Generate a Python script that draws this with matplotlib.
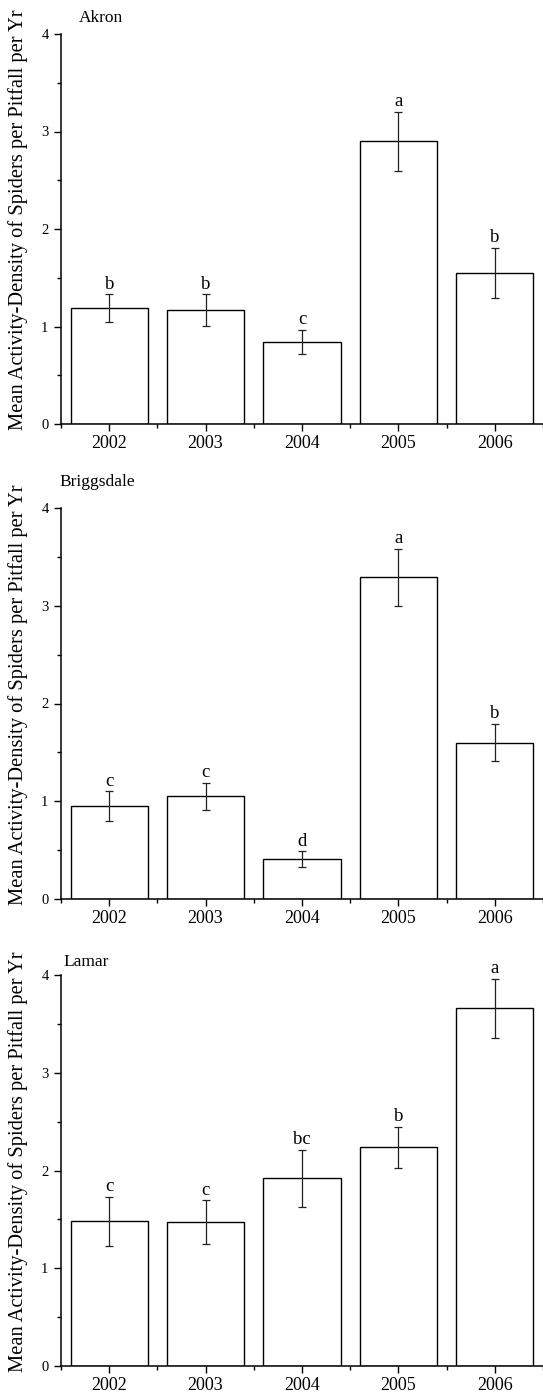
import matplotlib
matplotlib.use('Agg')
from matplotlib import pyplot as plt
from matplotlib.ticker import MultipleLocator
import numpy as np

plt.rcParams['font.family'] = ['Liberation Serif', 'DejaVu Serif']

years = ['2002', '2003', '2004', '2005', '2006']

sites = ['Akron', 'Briggsdale', 'Lamar']

akron_mean = [1.19, 1.17, 0.84, 2.90, 1.55]
akron_se = [0.14, 0.16, 0.125, 0.30, 0.26]
akron_letters = ['b', 'b', 'c', 'a', 'b']

brig_mean = [0.95, 1.05, 0.41, 3.29, 1.60]
brig_se = [0.15, 0.14, 0.08, 0.29, 0.19]
brig_letters = ['c', 'c', 'd', 'a', 'b']

lamar_mean = [1.48, 1.47, 1.92, 2.24, 3.66]
lamar_se = [0.25, 0.225, 0.29, 0.21, 0.30]
lamar_letters = ['c', 'c', 'bc', 'b', 'a']

means = [akron_mean, brig_mean, lamar_mean]
errs = [akron_se, brig_se, lamar_se]
letters = [akron_letters, brig_letters, lamar_letters]

W, H = 543, 1394
fig = plt.figure(figsize=(W / 100, H / 100), dpi=100)

# axes boxes in pixels: (top of y=4, bottom at y=0)
boxes = [(34, 424), (508, 899), (975, 1366)]
title_pos = [(79, 22), (59, 486), (63, 966)]
left_px = 61

x = np.arange(1, 6)

for k in range(3):
    top, bot = boxes[k]
    ax = fig.add_axes([left_px / W, 1 - bot / H, (W - left_px) / W, (bot - top) / H])
    ax.bar(x, means[k], width=0.8, color='white', edgecolor='black', lw=1.0, zorder=2)
    ax.errorbar(x, means[k], yerr=errs[k], fmt='none', ecolor='#222222', elinewidth=0.9,
                capsize=3.2, capthick=0.9, zorder=3)
    for i in range(5):
        ax.annotate(letters[k][i], xy=(x[i], means[k][i] + errs[k][i]), xytext=(0, 4),
                    textcoords='offset points', ha='center', va='baseline', fontsize=13.5)

    ax.set_xlim(0.5, 5.5)
    ax.set_ylim(0, 4)
    ax.set_xticks(x)
    ax.set_xticklabels(years, fontsize=13)
    ax.xaxis.set_minor_locator(MultipleLocator(1, offset=0.5))
    ax.yaxis.set_major_locator(MultipleLocator(1))
    ax.yaxis.set_minor_locator(MultipleLocator(0.5))
    ax.tick_params(axis='y', which='major', direction='out', length=5, width=1, labelsize=10.5, pad=4)
    ax.tick_params(axis='y', which='minor', direction='out', length=3, width=1)
    ax.tick_params(axis='x', which='major', direction='out', length=5, width=1, pad=3)
    ax.tick_params(axis='x', which='minor', direction='out', length=3, width=1)
    ax.spines['top'].set_visible(False)
    ax.spines['right'].set_visible(False)
    ax.spines['left'].set_linewidth(1.1)
    ax.spines['bottom'].set_linewidth(1.1)

    tx, ty = title_pos[k]
    fig.text(tx / W, 1 - ty / H, sites[k], fontsize=12.5, ha='left', va='baseline')
    fig.text(18 / W, 1 - ((top + bot) / 2 - 9) / H,
             'Mean Activity-Density of Spiders per Pitfall per Yr',
             rotation=90, fontsize=14.8, ha='center', va='center')

fig.savefig('out.png', dpi=100)
